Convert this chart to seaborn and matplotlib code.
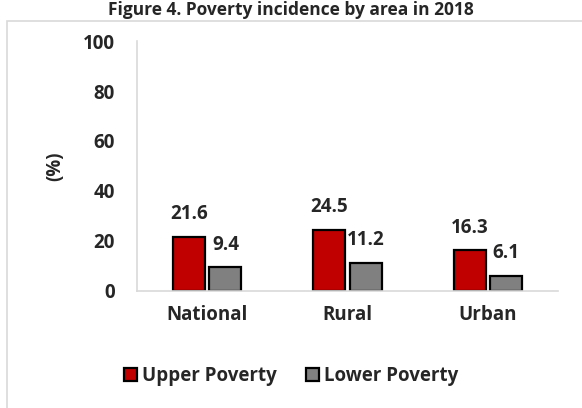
import matplotlib
matplotlib.use("Agg")
import matplotlib.pyplot as plt
import seaborn as sns
import pandas as pd
from matplotlib.patches import Rectangle

# data
areas = ["National", "Rural", "Urban"]
upper_poverty = [21.6, 24.5, 16.3]
lower_poverty = [9.4, 11.2, 6.1]
series_names = ["Upper Poverty", "Lower Poverty"]
colors = ["#C00000", "#808080"]

df = pd.DataFrame({
    "area": areas * 2,
    "value": upper_poverty + lower_poverty,
    "series": [series_names[0]] * 3 + [series_names[1]] * 3,
})

sns.set_style("white")
plt.rcParams['font.family'] = ['Open Sans', 'DejaVu Sans']
plt.rcParams['font.weight'] = 'bold'
fs = 13.5

fig = plt.figure(figsize=(5.82, 4.08), dpi=100)
ax = fig.add_axes([0.2354, 0.2868, 0.7234, 0.6127])

sns.barplot(data=df, x="area", y="value", hue="series", palette=colors, saturation=1,
            width=0.52, gap=0.12, edgecolor="black", linewidth=1.6, ax=ax)

for cont in ax.containers:
    ax.bar_label(cont, fmt="%.1f", padding=9, fontsize=fs, fontweight="bold")

ax.set_ylim(0, 100)
ax.set_xlim(-0.5, 2.5)
ax.set_yticks([0, 20, 40, 60, 80, 100])
ax.tick_params(axis="both", length=0, labelsize=fs)
ax.tick_params(axis="x", pad=10)
ax.tick_params(axis="y", pad=16)
for lab in ax.get_xticklabels() + ax.get_yticklabels():
    lab.set_fontweight("bold")
ax.set_xlabel("")
ax.set_ylabel("(%)", fontsize=fs, fontweight="bold")
ax.yaxis.set_label_coords(-0.17, 0.5)

for side in ["top", "right"]:
    ax.spines[side].set_visible(False)
for side in ["left", "bottom"]:
    ax.spines[side].set_color("#D9D9D9")
    ax.spines[side].set_linewidth(1.2)

leg = ax.legend(loc="center", bbox_to_anchor=(0.5, 0.078), bbox_transform=fig.transFigure,
                ncol=2, frameon=False, fontsize=fs, handlelength=0.7, handleheight=0.7,
                handletextpad=0.25, columnspacing=1.6, title=None)
for t in leg.get_texts():
    t.set_fontweight("bold")

# chart area frame (runs past the bottom and right edges)
top_px = 21
fig.patches.append(Rectangle((7 / 582, -0.1), 1.0, 1 - top_px / 408 + 0.1,
                             transform=fig.transFigure, fill=False,
                             edgecolor="#D9D9D9", linewidth=1.2))

fig.text(0.5, 0.998, "Figure 4. Poverty incidence by area in 2018", ha="center",
         va="top", fontsize=12.5, fontweight="bold")

fig.savefig("out.png", dpi=100, facecolor="white")
